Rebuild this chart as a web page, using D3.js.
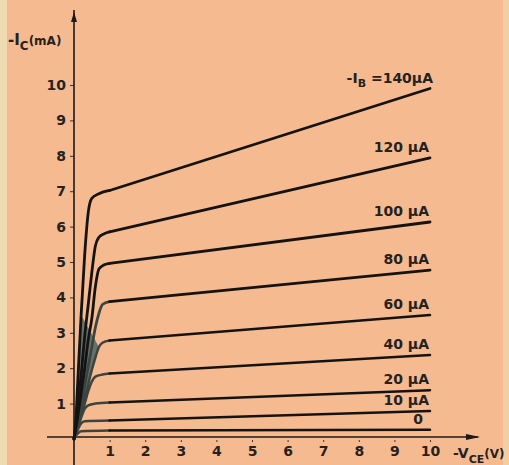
<!DOCTYPE html>
<html>
<head>
<meta charset="utf-8">
<script src="https://cdn.jsdelivr.net/npm/d3@7"></script>
<style>
	html, body { margin: 0; padding: 0; background: #f6ba90; }
	svg { display: block; }
	text { font-family: "DejaVu Sans", sans-serif; font-weight: bold; fill: #242220; }
</style>
</head>
<body>
<svg id="chart" width="509" height="465"></svg>
<script>

// Base current of each curve (µA), bottom to top.
var baseCurrents = [ 0, 10, 20, 40, 60, 80, 100, 120, 140 ];

// Label written above the end of each curve.
var curveLabels = [ '0', '10 µA', '20 µA', '40 µA', '60 µA', '80 µA', '100 µA', '120 µA', '=140µA' ];

// [ -VCE (V), -IC (mA) ] for each curve.
var curve0 = [ [0, 0], [0.1, 0.15], [0.2, 0.22], [1, 0.24], [10, 0.26] ];
var curve10 = [ [0, 0], [0.1, 0.25], [0.2, 0.44], [0.3, 0.5], [1, 0.52], [10, 0.79] ];
var curve20 = [ [0, 0], [0.1, 0.3], [0.2, 0.6], [0.3, 0.85], [0.4, 0.95], [0.6, 1.0], [1, 1.03], [10, 1.38] ];
var curve40 = [ [0, 0], [0.1, 0.3], [0.2, 0.65], [0.3, 1.0], [0.4, 1.35], [0.5, 1.62], [0.6, 1.76], [0.8, 1.82], [1, 1.85], [10, 2.37] ];
var curve60 = [ [0, 0], [0.1, 0.35], [0.2, 0.75], [0.3, 1.15], [0.4, 1.55], [0.5, 1.95], [0.6, 2.3], [0.7, 2.6], [0.8, 2.72], [1, 2.78], [10, 3.5] ];
var curve80 = [ [0, 0], [0.1, 0.45], [0.2, 0.95], [0.3, 1.5], [0.4, 2.05], [0.5, 2.6], [0.6, 3.15], [0.7, 3.55], [0.8, 3.8], [1, 3.88], [10, 4.77] ];
var curve100 = [ [0, 0], [0.1, 0.6], [0.2, 1.3], [0.3, 2.0], [0.4, 2.8], [0.5, 3.4], [0.6, 4.3], [0.7, 4.8], [0.85, 4.92], [1, 4.96], [10, 6.13] ];
var curve120 = [ [0, 0], [0.1, 0.8], [0.2, 1.8], [0.3, 2.9], [0.4, 3.8], [0.5, 4.7], [0.6, 5.45], [0.7, 5.7], [0.85, 5.8], [1, 5.85], [10, 7.94] ];
var curve140 = [ [0, 0], [0.05, 0.5], [0.1, 1.5], [0.2, 3.5], [0.3, 5.2], [0.4, 6.4], [0.5, 6.8], [0.7, 6.93], [1, 7.02], [10, 9.9] ];

var curves = [ curve0, curve10, curve20, curve40, curve60, curve80, curve100, curve120, curve140 ];

// Axis ticks.
var xTicks = [ 1, 2, 3, 4, 5, 6, 7, 8, 9, 10 ];
var yTicks = [ 1, 2, 3, 4, 5, 6, 7, 8, 9, 10 ];

var svg = d3.select( '#chart' );

// Pale strips at the scan edges.
svg.append( 'rect' ).attr( 'x', 0 ).attr( 'y', 0 ).attr( 'width', 7 ).attr( 'height', 465 ).attr( 'fill', '#eedbb2' );
svg.append( 'rect' ).attr( 'x', 503 ).attr( 'y', 0 ).attr( 'width', 6 ).attr( 'height', 465 ).attr( 'fill', '#f4cda4' );

var x = d3.scaleLinear().domain( [ 0, 10 ] ).range( [ 74, 430 ] );
var y = d3.scaleLinear().domain( [ 0, 10 ] ).range( [ 439, 85 ] );

// Steep (saturation) part is smooth, the active part is straight.
var steepLine = d3.line()
	.x( function ( d ) { return x( d[0] ); } )
	.y( function ( d ) { return y( d[1] ); } )
	.curve( d3.curveMonotoneX );

var flatLine = d3.line()
	.x( function ( d ) { return x( d[0] ); } )
	.y( function ( d ) { return y( d[1] ); } );

function steepPart( d ) { return d.filter( function ( p ) { return p[0] <= 1; } ); }
function flatPart( d ) { return d.filter( function ( p ) { return p[0] >= 1; } ); }

// The grey fan where the steep parts of the curves pile up.
var fanLeft = curve140.filter( function ( d ) { return d[1] <= 3.5; } );
var fanRight = curve60.filter( function ( d ) { return d[0] <= 0.75; } ).slice().reverse();
svg.append( 'path' )
	.attr( 'd', d3.line()
		.x( function ( d ) { return x( d[0] ); } )
		.y( function ( d ) { return y( d[1] ); } )
		.curve( d3.curveLinearClosed )( fanLeft.concat( fanRight ) ) )
	.attr( 'fill', '#65716c' );

// Axes.
var yAxis = svg.append( 'g' )
	.attr( 'transform', 'translate(' + x( 0 ) + ',0)' )
	.call( d3.axisLeft( y ).tickValues( yTicks ).tickSize( 4 ).tickPadding( 4 ).tickFormat( d3.format( 'd' ) ) );

var xAxis = svg.append( 'g' )
	.attr( 'transform', 'translate(0,437)' )
	.call( d3.axisBottom( x ).tickValues( xTicks ).tickSize( 5 ).tickPadding( 4 ).tickFormat( d3.format( 'd' ) ) );

[ yAxis, xAxis ].forEach( function ( a ) {
	a.select( '.domain' ).remove();
	a.selectAll( 'line' ).attr( 'stroke', '#3a3430' ).attr( 'stroke-width', 1 );
	a.selectAll( 'text' ).attr( 'font-size', 14 ).attr( 'font-family', '"DejaVu Sans", sans-serif' ).attr( 'font-weight', 'bold' ).attr( 'fill', '#242220' );
} );
xAxis.selectAll( 'line' ).attr( 'y1', 3 );

// Axis lines with arrows.
svg.append( 'line' )
	.attr( 'x1', x( 0 ) ).attr( 'x2', x( 0 ) )
	.attr( 'y1', 10 ).attr( 'y2', 465 )
	.attr( 'stroke', '#1c1a18' ).attr( 'stroke-width', 1.6 );
svg.append( 'path' )
	.attr( 'd', 'M' + ( x( 0 ) - 3 ) + ',22L' + x( 0 ) + ',12L' + ( x( 0 ) + 3 ) + ',22Z' )
	.attr( 'fill', '#1c1a18' );

svg.append( 'line' )
	.attr( 'x1', 47 ).attr( 'x2', 478 )
	.attr( 'y1', 437 ).attr( 'y2', 437 )
	.attr( 'stroke', '#1c1a18' ).attr( 'stroke-width', 1.6 );
svg.append( 'path' )
	.attr( 'd', 'M466,434L480,437L466,440Z' )
	.attr( 'fill', '#1c1a18' );

// Curves: steep parts of the lower curves sit in the grey fan.
svg.selectAll( 'path.steep' )
	.data( curves )
	.enter()
	.append( 'path' )
	.classed( 'steep', true )
	.attr( 'd', function ( d ) { return steepLine( steepPart( d ) ); } )
	.attr( 'fill', 'none' )
	.attr( 'stroke', function ( d, i ) { return i >= 6 ? '#141312' : '#3b4441'; } )
	.attr( 'stroke-width', function ( d, i ) { return i >= 5 ? 2.8 : 2.5; } )
	.attr( 'stroke-linecap', 'round' );

svg.selectAll( 'path.flat' )
	.data( curves )
	.enter()
	.append( 'path' )
	.classed( 'flat', true )
	.attr( 'd', function ( d ) { return flatLine( flatPart( d ) ); } )
	.attr( 'fill', 'none' )
	.attr( 'stroke', '#141312' )
	.attr( 'stroke-width', function ( d, i ) { return i >= 5 ? 2.8 : 2.5; } )
	.attr( 'stroke-linecap', 'round' );

// Curve labels.
var labels = svg.selectAll( 'text.curve-label' )
	.data( curves )
	.enter()
	.append( 'text' )
	.classed( 'curve-label', true )
	.attr( 'x', function ( d, i ) { return i === 8 ? 433 : ( i === 0 ? 423 : 429 ); } )
	.attr( 'y', function ( d ) { return y( d[d.length - 1][1] ) - 6; } )
	.attr( 'text-anchor', 'end' )
	.attr( 'font-size', 14 )
	.text( function ( d, i ) { return i === 8 ? '' : curveLabels[i]; } );

var topLabel = labels.filter( function ( d, i ) { return i === 8; } );
topLabel.append( 'tspan' ).text( '-I' );
topLabel.append( 'tspan' ).attr( 'font-size', 11 ).attr( 'dy', 4 ).text( 'B' );
topLabel.append( 'tspan' ).attr( 'dy', -4 ).text( ' ' + curveLabels[8] );

// Axis titles.
var yTitle = svg.append( 'text' ).attr( 'x', 8 ).attr( 'y', 45 ).attr( 'font-size', 15 );
yTitle.append( 'tspan' ).text( '-I' );
yTitle.append( 'tspan' ).attr( 'font-size', 12 ).attr( 'dy', 5 ).text( 'C' );
yTitle.append( 'tspan' ).attr( 'font-size', 12 ).attr( 'dy', -5 ).text( '(mA)' );

var xTitle = svg.append( 'text' ).attr( 'x', 453 ).attr( 'y', 458 ).attr( 'font-size', 14 );
xTitle.append( 'tspan' ).text( '-V' );
xTitle.append( 'tspan' ).attr( 'font-size', 11 ).attr( 'dy', 5 ).text( 'CE' );
xTitle.append( 'tspan' ).attr( 'font-size', 12 ).attr( 'dy', -5 ).text( '(V)' );

</script>
</body>
</html>
